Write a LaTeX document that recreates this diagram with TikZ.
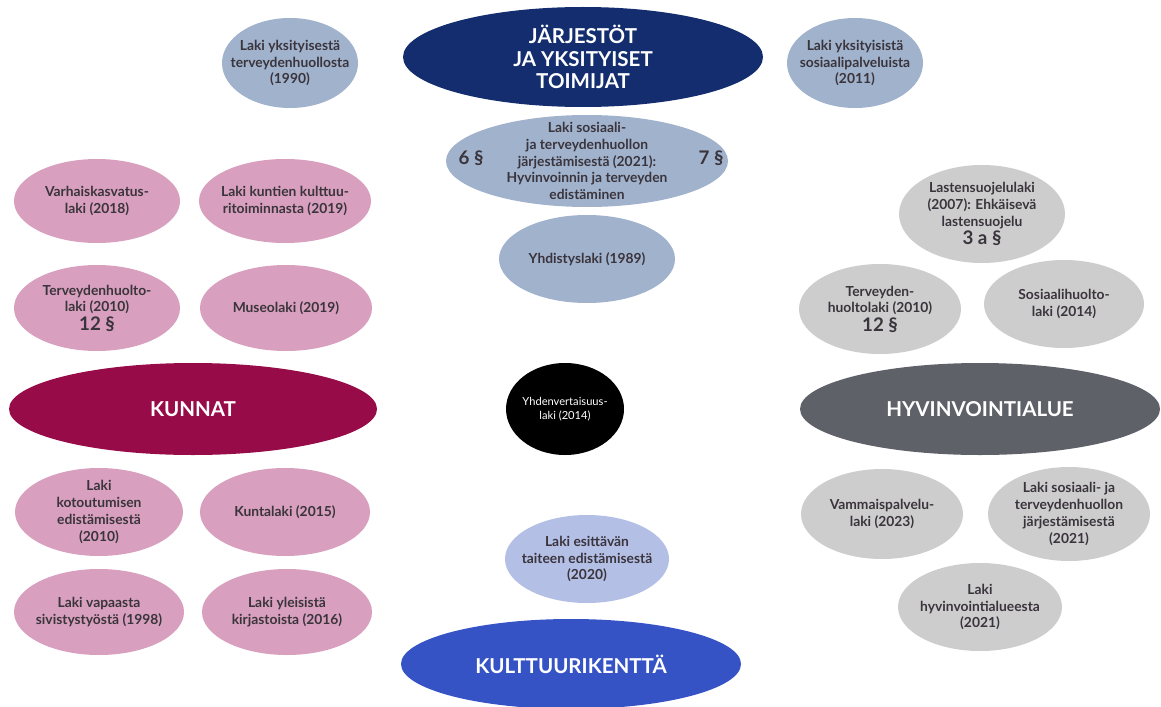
\documentclass[tikz,border=0pt]{standalone}
\usepackage{fontspec}
\setmainfont{Lato}
\usetikzlibrary{shapes.geometric}

\definecolor{navyfill}{HTML}{132D6E}
\definecolor{greyblue}{HTML}{A0B2CC}
\definecolor{pinkfill}{HTML}{D8A0BE}
\definecolor{crimson}{HTML}{970C48}
\definecolor{slatefill}{HTML}{5F6168}
\definecolor{lightgrey}{HTML}{CDCDCD}
\definecolor{periwinkle}{HTML}{B4BFE6}
\definecolor{royal}{HTML}{3653C6}
\definecolor{lawtext}{HTML}{3A343C}

\begin{document}
\begin{tikzpicture}[x=0.03cm, y=-0.03cm,
  ell/.style 2 args={minimum width=#1*0.03cm, minimum height=#2*0.03cm},
  law/.style={ellipse, inner xsep=-40pt, inner ysep=-30pt, align=center,
    text=lawtext, font=\fontsize{11.8}{14.4}\selectfont\bfseries},
  sector/.style={law, text=white,
    font=\fontsize{17.5}{19.5}\selectfont\bfseries},
  para/.style={font=\fontsize{16}{18}\selectfont\bfseries},
  bluelaw/.style={law, fill=greyblue},
  pinklaw/.style={law, fill=pinkfill},
  greylaw/.style={law, fill=lightgrey}]

  \useasboundingbox (0,0) rectangle (1161,706);

  % ── Järjestöt ja yksityiset toimijat ─────────────────────────────────────────

  \node[bluelaw, ell={136}{90}] (yksterv) at (290,63)
    {Laki yksityisestä\\terveydenhuollosta\\(1990)};
  \node[sector, fill=navyfill, ell={360}{100}] (jarjestot) at (583,57)
    {JÄRJESTÖT\\JA YKSITYISET\\TOIMIJAT};
  \node[bluelaw, ell={136}{90}] (ykssos) at (855,63)
    {Laki yksityisistä\\sosiaalipalveluista\\(2011)};

  \node[bluelaw, ell={282}{92}] (sotejarj) at (587,161)
    {Laki sosiaali-\\ja terveydenhuollon\\järjestämisestä (2021):\\Hyvinvoinnin ja terveyden\\edistäminen};
  \node[para, text=lawtext] (pykala6) at (471,158) {6 §};
  \node[para, text=lawtext] (pykala7) at (711,158) {7 §};

  \node[bluelaw, ell={176}{88}] (yhdistys) at (587,259) {Yhdistyslaki (1989)};

  % ── Kunnat ───────────────────────────────────────────────────────────────────

  \node[pinklaw, ell={166}{84}] (varhais) at (97,201)
    {Varhaiskasvatus-\\laki (2018)};
  \node[pinklaw, ell={172}{84}] (kulttuuri) at (285,201)
    {Laki kuntien kulttuu-\\ritoiminnasta (2019)};
  \node[pinklaw, ell={166}{86}] (tervkunta) at (97,308)
    {Terveydenhuolto-\\laki (2010)\\[1pt]{\fontsize{16}{18}\selectfont 12 §}};
  \node[pinklaw, ell={172}{86}] (museo) at (286,308) {Museolaki (2019)};

  \node[sector, fill=crimson, ell={368}{92}] (kunnat) at (193,409) {KUNNAT};

  \node[pinklaw, ell={168}{88}] (kotout) at (99,512)
    {Laki\\kotoutumisen\\edistämisestä\\(2010)};
  \node[pinklaw, ell={170}{88}] (kunta) at (285,512) {Kuntalaki (2015)};
  \node[pinklaw, ell={170}{86}] (vapaa) at (99,612)
    {Laki vapaasta\\sivistystyöstä (1998)};
  \node[pinklaw, ell={170}{86}] (kirjasto) at (287,612)
    {Laki yleisistä\\kirjastoista (2016)};

  % ── Keskellä ─────────────────────────────────────────────────────────────────

  \node[law, fill=black, text=white, ell={118}{92},
        font=\fontsize{9.5}{12}\selectfont] (yhdenv) at (565,409)
    {Yhdenvertaisuus-\\laki (2014)};

  \node[law, fill=periwinkle, ell={164}{88}] (esittava) at (587,559)
    {Laki esittävän\\taiteen edistämisestä\\(2020)};
  \node[sector, fill=royal, ell={340}{90}] (kulttkentta) at (571,664)
    {KULTTUURIKENTTÄ};

  % ── Hyvinvointialue ──────────────────────────────────────────────────────────

  \node[greylaw, ell={166}{98}] (lasten) at (982,214)
    {Lastensuojelulaki\\(2007): Ehkäisevä\\lastensuojelu\\[1pt]{\fontsize{16}{18}\selectfont 3 a §}};
  \node[greylaw, ell={162}{90}] (tervalue) at (880,309)
    {Terveyden-\\huoltolaki (2010)\\[1pt]{\fontsize{16}{18}\selectfont 12 §}};
  \node[greylaw, ell={160}{88}] (sosiaali) at (1064,304)
    {Sosiaalihuolto-\\laki (2014)};

  \node[sector, fill=slatefill, ell={360}{92}] (hyvinvointi) at (980,409)
    {HYVINVOINTIALUE};

  \node[greylaw, ell={162}{90}] (vammais) at (882,514)
    {Vammaispalvelu-\\laki (2023)};
  \node[greylaw, ell={162}{94}] (sotealue) at (1069,514)
    {Laki sosiaali- ja\\terveydenhuollon\\järjestämisestä\\(2021)};
  \node[greylaw, ell={164}{88}] (hyvlaki) at (980,607)
    {Laki\\hyvinvointialueesta\\(2021)};

\end{tikzpicture}
\end{document}
